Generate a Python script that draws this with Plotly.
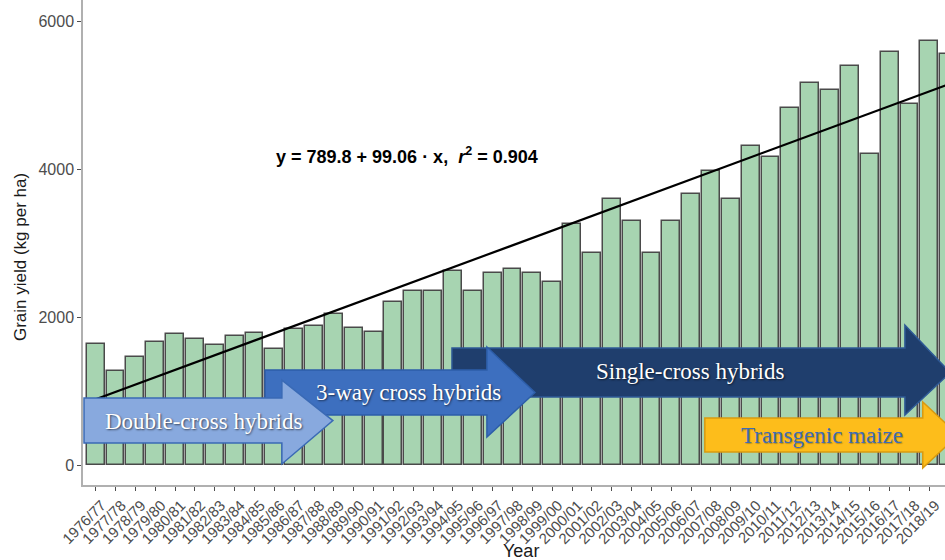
import numpy as np
import plotly.graph_objects as go

seasons = ["1976/77", "1977/78", "1978/79", "1979/80", "1980/81", "1981/82", "1982/83", "1983/84",
           "1984/85", "1985/86", "1986/87", "1987/88", "1988/89", "1989/90", "1990/91", "1991/92",
           "1992/93", "1993/94", "1994/95", "1995/96", "1996/97", "1997/98", "1998/99", "1999/00",
           "2000/01", "2001/02", "2002/03", "2003/04", "2004/05", "2005/06", "2006/07", "2007/08",
           "2008/09", "2009/10", "2010/11", "2011/12", "2012/13", "2013/14", "2014/15", "2015/16",
           "2016/17", "2017/18", "2018/19", "2019/20"]
yields = [1630, 1274, 1455, 1666, 1765, 1698, 1621, 1747, 1783, 1563, 1833, 1882, 2036, 1855,
          1801, 2206, 2355, 2346, 2625, 2355, 2598, 2643, 2590, 2477, 3256, 2868, 3594, 3296,
          2868, 3296, 3661, 3972, 3594, 4310, 4166, 4827, 5165, 5066, 5394, 4197, 5575, 4873,
          5728, 5557]
y_ticks = [0, 2000, 4000, 6000]

# regression reported in the chart
intercept = 789.8
slope = 99.06

idx = np.arange(len(seasons))
trend = intercept + slope * (idx + 1)

fig = go.Figure()
fig.add_trace(go.Bar(x=idx, y=yields, width=0.9,
                     marker=dict(color="#A7D4B1", line=dict(color="#4A4A4A", width=1.5)),
                     showlegend=False, hoverinfo="skip"))
fig.add_trace(go.Scatter(x=idx, y=trend, mode="lines", line=dict(color="black", width=2.2),
                         showlegend=False, hoverinfo="skip"))

# breeding-era arrows: (start, head start, tip, body low, body high, head low, head high, fill, border)
arrows = [
    ("Single-cross hybrids", 17.95, 40.77, 43.05, 919, 1580, 675, 1891, "#1F3E6D", "#2F5A96",
     29.99, 1270, "white"),
    ("3-way cross hybrids", 8.53, 19.71, 22.13, 675, 1283, 378, 1594, "#3D6FBF", "#2D5EA9",
     15.74, 986, "white"),
    ("Double-cross hybrids", -0.59, 9.38, 11.95, 297, 905, 14, 1148, "#88A9DE", "#3A6AB5",
     5.41, 594, "white"),
    ("Transgenic maize", 30.69, 41.67, 43.45, 176, 635, -41, 851, "#FDBD1B", "#D99A10",
     36.59, 405, "#3F6CB3"),
]
shapes = []
annotations = []
for (label, x0, xh, xt, bl, bh, hl, hh, fill, border, tx, ty, tcol) in arrows:
    c = (bl + bh) / 2
    path = (f"M {x0},{bl} L {xh},{bl} L {xh},{hl} L {xt},{c} L {xh},{hh} "
            f"L {xh},{bh} L {x0},{bh} Z")
    shapes.append(dict(type="path", path=path, xref="x", yref="y", fillcolor=fill,
                       line=dict(color=border, width=1.5), layer="above"))
    shadow = "1px 1px 2px rgba(0,0,0,0.6)" if tcol == "white" else "1px 1px 1px rgba(0,0,0,0.25)"
    annotations.append(dict(x=tx, y=ty, xref="x", yref="y", text=label, showarrow=False,
                            font=dict(family="Liberation Serif", size=23, color=tcol, shadow=shadow),
                            xanchor="center", yanchor="middle"))

annotations.append(dict(x=15.68, y=4188, xref="x", yref="y",
                        text="y = 789.8 + 99.06 · x,  <i>r</i><sup>2</sup> = 0.904",
                        showarrow=False, font=dict(family="Liberation Sans", size=18, color="black",
                                                   weight="bold"),
                        xanchor="center", yanchor="middle"))
annotations.append(dict(x=0.508, y=-0.136, xref="paper", yref="paper", text="Year",
                        showarrow=False, font=dict(family="Liberation Sans", size=18, color="#1A1A1A"),
                        xanchor="center", yanchor="middle"))
annotations.append(dict(x=-0.0731, y=0.470, xref="paper", yref="paper",
                        text="Grain yield (kg per ha)", textangle=-90, showarrow=False,
                        font=dict(family="Liberation Sans", size=17, color="#1A1A1A"),
                        xanchor="center", yanchor="middle"))

fig.update_layout(
    width=945, height=560,
    margin=dict(l=83, r=0, t=0, b=75),
    plot_bgcolor="white", paper_bgcolor="white",
    shapes=shapes, annotations=annotations,
    bargap=0,
)
fig.update_xaxes(range=[-0.64, 42.79], tickmode="array", tickvals=idx, ticktext=seasons,
                 tickangle=-45, tickfont=dict(family="Liberation Sans", size=15, color="#4D4D4D"),
                 ticklabelshift=6,
                 showline=True, linecolor="#B0B0B0", linewidth=1.5, ticks="outside",
                 tickcolor="#4D4D4D", ticklen=4, showgrid=False, zeroline=False, automargin=False)
fig.update_yaxes(range=[-270, 6284], tickmode="array", tickvals=y_ticks,
                 tickfont=dict(family="Liberation Sans", size=16, color="#4D4D4D"),
                 showline=True, linecolor="#B0B0B0", linewidth=1.5, ticks="outside",
                 tickcolor="#4D4D4D", ticklen=4, showgrid=False, zeroline=False, automargin=False)

fig.write_html("out.html")
